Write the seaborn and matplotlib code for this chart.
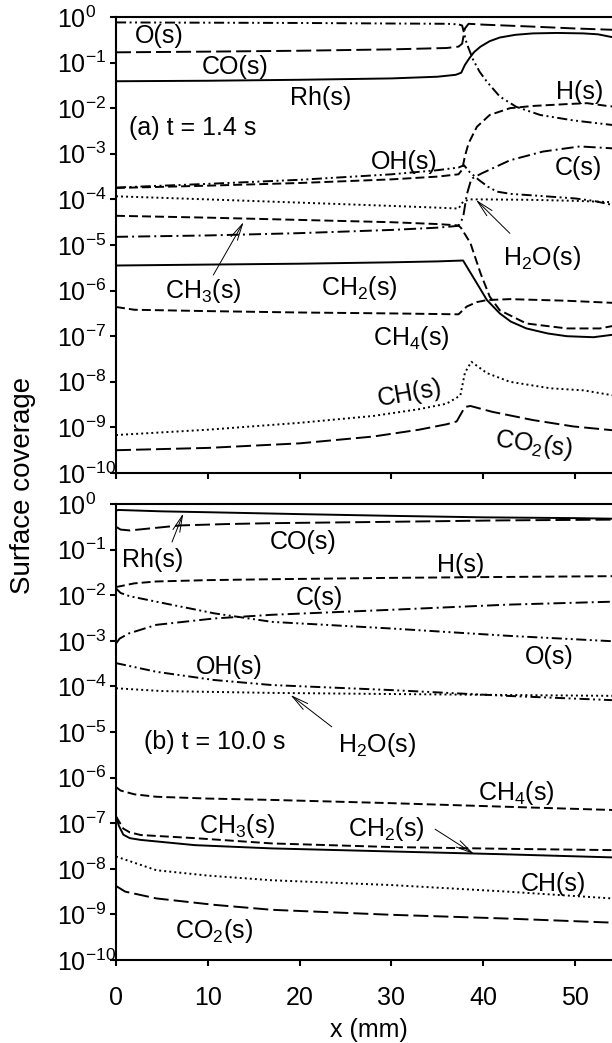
import numpy as np
import pandas as pd
import matplotlib
matplotlib.use("Agg")
import matplotlib.pyplot as plt
import seaborn as sns

# ---------------- panel (a): t = 1.4 s ----------------
a_Rh_x = [0, 10, 20, 30, 35, 37, 37.6, 38.0, 38.5, 39.0, 39.7, 40.7, 41.8, 43.5, 45.4, 48, 50.9, 52.5, 54, 56]
a_Rh_y = [0.039, 0.040, 0.042, 0.045, 0.049, 0.054, 0.060, 0.089, 0.126, 0.17, 0.224, 0.295, 0.355, 0.407,
          0.437, 0.447, 0.437, 0.417, 0.363, 0.316]

a_CO_x = [0, 10, 20, 30, 36, 37.3, 37.7, 38.0, 38.4, 40, 45, 50, 54, 56]
a_CO_y = [0.168, 0.174, 0.182, 0.195, 0.209, 0.224, 0.26, 0.56, 0.71, 0.68, 0.62, 0.56, 0.525, 0.51]

a_O_x = [0, 10, 20, 30, 36, 37.3, 37.7, 38.2, 38.9, 39.6, 40.4, 41.8, 43.6, 46.2, 49.8, 54, 56]
a_O_y = [0.76, 0.75, 0.74, 0.72, 0.71, 0.69, 0.65, 0.26, 0.115, 0.063, 0.038, 0.018, 0.0107, 0.0071,
         0.0054, 0.0043, 0.004]

a_H_x = [0, 10, 20, 30, 35, 37.3, 37.7, 38.0, 38.4, 39.3, 40.7, 42.9, 45.4, 49.1, 51.3, 53.5, 56]
a_H_y = [1.78e-4, 2.0e-4, 2.29e-4, 2.75e-4, 3.16e-4, 3.55e-4, 4.47e-4, 8.9e-4, 1.7e-3, 3.9e-3, 7.1e-3,
         1.0e-2, 1.12e-2, 1.23e-2, 1.29e-2, 1.12e-2, 1.0e-2]

a_OH_x = [0, 10, 20, 30, 35, 37.3, 37.9, 38.5, 39.5, 40.5, 41.5, 43, 46, 50, 52, 54, 56]
a_OH_y = [1.82e-4, 2.19e-4, 2.69e-4, 3.55e-4, 4.37e-4, 5.0e-4, 5.6e-4, 4.0e-4, 2.69e-4, 1.9e-4, 1.48e-4,
          1.32e-4, 1.2e-4, 1.05e-4, 9.3e-5, 7.6e-5, 6.3e-5]

a_C_x = [0, 10, 20, 30, 35, 37.3, 37.8, 38.2, 38.7, 39.8, 42.9, 46.5, 50.5, 54, 56]
a_C_y = [1.51e-5, 1.62e-5, 1.82e-5, 2.14e-5, 2.4e-5, 2.63e-5, 4.0e-5, 1.26e-4, 2.82e-4, 3.7e-4, 7.2e-4,
         1.12e-3, 1.45e-3, 1.32e-3, 1.2e-3]

a_H2O_x = [0, 10, 20, 30, 35, 37.3, 37.8, 38.5, 40, 45, 50, 54, 56]
a_H2O_y = [1.17e-4, 1.0e-4, 8.5e-5, 7.2e-5, 6.6e-5, 6.3e-5, 8.9e-5, 1.0e-4, 1.0e-4, 9.8e-5, 9.3e-5,
           8.7e-5, 8.3e-5]

a_CH3_x = [0, 10, 20, 30, 35, 37.3, 37.6, 38.6, 39.7, 40.7, 41.8, 44.7, 49.1, 52.7, 54, 56]
a_CH3_y = [4.37e-5, 3.98e-5, 3.55e-5, 3.16e-5, 2.88e-5, 2.69e-5, 2.34e-5, 1.1e-5, 2.4e-6, 7.4e-7,
           3.7e-7, 1.9e-7, 1.48e-7, 1.48e-7, 1.66e-7, 1.9e-7]

a_CH2_x = [0, 10, 20, 30, 35, 37.8, 39.3, 40.4, 41.8, 43, 44.7, 47, 49.1, 52, 54, 56]
a_CH2_y = [3.55e-6, 3.72e-6, 3.89e-6, 4.17e-6, 4.37e-6, 4.57e-6, 1.45e-6, 6.2e-7, 3.16e-7, 2.09e-7,
           1.48e-7, 1.15e-7, 1.0e-7, 9.5e-8, 1.07e-7, 1.26e-7]

a_CH4_x = [0, 2, 10, 20, 30, 37.3, 38.2, 39.3, 40.4, 42.9, 49, 54, 56]
a_CH4_y = [4.37e-7, 3.8e-7, 3.55e-7, 3.31e-7, 3.16e-7, 3.02e-7, 4.47e-7, 5.6e-7, 6.2e-7, 6.5e-7, 6.0e-7,
           5.4e-7, 5.1e-7]

a_CH_x = [0, 10, 20, 28, 33, 36, 37.5, 38.0, 38.7, 40.4, 42.9, 47.3, 50.9, 54, 56]
a_CH_y = [6.8e-10, 8.9e-10, 1.26e-9, 1.78e-9, 2.51e-9, 3.31e-9, 5.0e-9, 1.58e-8, 2.75e-8, 1.55e-8,
          1.0e-8, 7.2e-9, 6.5e-9, 5.1e-9, 4.5e-9]

a_CO2_x = [0, 10, 20, 28, 33, 36, 37.1, 38.0, 38.6, 41, 45.4, 49.8, 54, 56]
a_CO2_y = [3.16e-10, 3.55e-10, 4.47e-10, 6.3e-10, 8.9e-10, 1.17e-9, 1.35e-9, 2.8e-9, 2.95e-9, 2.19e-9,
           1.45e-9, 1.05e-9, 8.7e-10, 7.9e-10]

# ---------------- panel (b): t = 10.0 s ----------------
b_Rh_x = [0, 0.3, 5, 10, 20, 30, 40, 50, 56]
b_Rh_y = [0.72, 0.74, 0.69, 0.66, 0.60, 0.55, 0.51, 0.49, 0.47]

b_CO_x = [0, 0.5, 1.5, 3, 7, 12, 17, 30, 42, 56]
b_CO_y = [0.316, 0.275, 0.263, 0.282, 0.339, 0.363, 0.38, 0.407, 0.437, 0.457]

b_H_x = [0, 0.5, 2, 4.4, 10, 17, 30, 42, 56]
b_H_y = [0.0151, 0.0158, 0.0182, 0.02, 0.0214, 0.0224, 0.024, 0.0251, 0.0263]

b_O_x = [0, 0.5, 1.5, 4.4, 10.7, 17, 30, 42.6, 54, 56]
b_O_y = [0.0141, 0.0112, 0.0095, 0.0072, 0.0040, 0.0026, 0.00186, 0.00129, 0.00098, 0.00093]

b_C_x = [0, 0.4, 1.4, 4.4, 10.7, 17, 30, 42.6, 54, 56]
b_C_y = [8.7e-4, 1.12e-3, 1.45e-3, 2.24e-3, 3.09e-3, 3.72e-3, 4.79e-3, 6.2e-3, 7.2e-3, 7.4e-3]

b_OH_x = [0, 4.4, 10.7, 17, 30, 42.6, 54, 56]
b_OH_y = [3.24e-4, 2.09e-4, 1.38e-4, 1.07e-4, 8.3e-5, 6.2e-5, 5.0e-5, 4.9e-5]

b_H2O_x = [0, 5, 17, 30, 42, 54, 56]
b_H2O_y = [9.1e-5, 7.9e-5, 7.2e-5, 6.8e-5, 6.5e-5, 6.2e-5, 6.0e-5]

b_CH4_x = [0, 0.5, 2, 4.4, 10, 17, 30, 42.6, 54, 56]
b_CH4_y = [6.2e-7, 5.2e-7, 4.3e-7, 3.8e-7, 3.47e-7, 3.24e-7, 2.75e-7, 2.29e-7, 1.95e-7, 1.9e-7]

b_CH3_x = [0, 0.3, 0.8, 1.5, 2.7, 8.6, 17, 30, 42, 54, 56]
b_CH3_y = [1.41e-7, 1.12e-7, 7.6e-8, 6.3e-8, 5.5e-8, 4.7e-8, 3.6e-8, 3.0e-8, 2.75e-8, 2.57e-8, 2.5e-8]

b_CH2_x = [0, 0.3, 0.8, 1.5, 2.7, 8.6, 17, 30, 42, 54, 56]
b_CH2_y = [1.41e-7, 8.9e-8, 5.6e-8, 4.7e-8, 4.3e-8, 3.3e-8, 2.8e-8, 2.4e-8, 2.09e-8, 1.78e-8, 1.74e-8]

b_CH_x = [0, 4.4, 10, 17, 30, 42.6, 54, 56]
b_CH_y = [1.86e-8, 9.3e-9, 7.1e-9, 5.6e-9, 4.4e-9, 3.16e-9, 2.24e-9, 2.14e-9]

b_CO2_x = [0, 1, 4.4, 10.7, 17, 30, 42.6, 54, 56]
b_CO2_y = [4.2e-9, 3.16e-9, 2.24e-9, 1.62e-9, 1.26e-9, 9.8e-10, 8.1e-10, 6.6e-10, 6.5e-10]

x_ticks = [0, 10, 20, 30, 40, 50]
y_exponents = [0, -1, -2, -3, -4, -5, -6, -7, -8, -9, -10]
y_ticks = [10.0 ** k for k in y_exponents]
y_ticklabels = [r"$10^{%d}$" % k for k in y_exponents]

# line style per species (dash lengths in units of line width)
SOLID = "-"
LONG_DASH = (0, (7.7, 2.6))
DASH = (0, (4.6, 2.1))
DASH_DOT = (0, (6.2, 2.1, 1.0, 2.1))
DASH_DOT_DOT = (0, (5.2, 1.8, 1.0, 1.8, 1.0, 1.8))
DOT = (0, (1.0, 1.6))

styles = {
    "Rh": SOLID, "CH2": SOLID,
    "CO": LONG_DASH, "CO2": LONG_DASH,
    "H": DASH, "CH3": DASH, "CH4": DASH,
    "C": DASH_DOT,
    "O": DASH_DOT_DOT, "OH": DASH_DOT_DOT,
    "H2O": DOT, "CH": DOT,
}

panel_a = {
    "Rh": (a_Rh_x, a_Rh_y), "CO": (a_CO_x, a_CO_y), "O": (a_O_x, a_O_y), "H": (a_H_x, a_H_y),
    "OH": (a_OH_x, a_OH_y), "C": (a_C_x, a_C_y), "H2O": (a_H2O_x, a_H2O_y), "CH3": (a_CH3_x, a_CH3_y),
    "CH2": (a_CH2_x, a_CH2_y), "CH4": (a_CH4_x, a_CH4_y), "CH": (a_CH_x, a_CH_y),
    "CO2": (a_CO2_x, a_CO2_y),
}
panel_b = {
    "Rh": (b_Rh_x, b_Rh_y), "CO": (b_CO_x, b_CO_y), "O": (b_O_x, b_O_y), "H": (b_H_x, b_H_y),
    "OH": (b_OH_x, b_OH_y), "C": (b_C_x, b_C_y), "H2O": (b_H2O_x, b_H2O_y), "CH3": (b_CH3_x, b_CH3_y),
    "CH2": (b_CH2_x, b_CH2_y), "CH4": (b_CH4_x, b_CH4_y), "CH": (b_CH_x, b_CH_y),
    "CO2": (b_CO2_x, b_CO2_y),
}

sns.set_theme(style="ticks")
plt.rcParams["font.family"] = ["Liberation Sans", "DejaVu Sans"]
plt.rcParams["mathtext.fontset"] = "custom"
plt.rcParams["mathtext.rm"] = "Liberation Sans"
plt.rcParams["mathtext.it"] = "Liberation Sans:italic"
plt.rcParams["mathtext.bf"] = "Liberation Sans:bold"
plt.rcParams["axes.linewidth"] = 1.5

FS = 18
W, H = 612, 1043
fig = plt.figure(figsize=(W / 100, H / 100), dpi=100)

left = 116 / W
width = 505 / W
ax_a = fig.add_axes([left, (H - 473) / H, width, 456 / H])
ax_b = fig.add_axes([left, (H - 960) / H, width, 456 / H])


def draw_panel(ax, curves):
    for name, (xs, ys) in curves.items():
        df = pd.DataFrame({"x": xs, "coverage": ys})
        sns.lineplot(data=df, x="x", y="coverage", ax=ax, color="black", lw=1.4,
                     linestyle=styles[name], estimator=None, sort=False)
    ax.set_yscale("log")
    ax.set_xlim(0, 55)
    ax.set_ylim(1e-10, 1)
    ax.set_xticks(x_ticks)
    ax.set_yticks(y_ticks)
    ax.set_yticklabels(y_ticklabels, ha="left")
    ax.yaxis.set_minor_locator(matplotlib.ticker.NullLocator())
    ax.tick_params(axis="both", which="major", direction="out", length=4.5, width=1.5,
                   labelsize=FS, color="black", labelcolor="black")
    ax.tick_params(axis="y", pad=38)
    ax.tick_params(axis="x", pad=14)
    ax.set_xlabel("")
    ax.set_ylabel("")
    for sp in ax.spines.values():
        sp.set_color("black")
        sp.set_linewidth(1.5)


draw_panel(ax_a, panel_a)
draw_panel(ax_b, panel_b)
ax_a.tick_params(axis="x", labelbottom=False)


def label(ax, x, y, s, rot=0, ha="center"):
    ax.text(x, y, s, fontsize=FS, ha=ha, va="center", rotation=rot, color="black")


def arrow(ax, tip, tail):
    ax.annotate("", xy=tip, xytext=tail,
                arrowprops=dict(arrowstyle="->,head_length=1.0,head_width=0.22",
                                lw=0.7, color="black", shrinkA=0, shrinkB=0))


# panel (a) annotations
label(ax_a, 4.7, 0.38, "O(s)")
label(ax_a, 13.0, 0.080, "CO(s)")
label(ax_a, 22.3, 0.0167, "Rh(s)")
label(ax_a, 1.4, 3.7e-3, "(a) t = 1.4 s", ha="left")
label(ax_a, 50.5, 0.0228, "H(s)")
label(ax_a, 31.4, 6.6e-4, "OH(s)")
label(ax_a, 50.4, 4.9e-4, "C(s)")
label(ax_a, 46.4, 5.2e-6, r"H$_2$O(s)")
label(ax_a, 9.5, 1.0e-6, r"CH$_3$(s)")
label(ax_a, 26.5, 1.15e-6, r"CH$_2$(s)")
label(ax_a, 32.2, 9.0e-8, r"CH$_4$(s)")
label(ax_a, 32.0, 5.6e-9, "CH(s)", rot=10)
label(ax_a, 45.5, 4.2e-10, r"CO$_2$(s)", rot=-8)
arrow(ax_a, (13.9, 3.2e-5), (10.6, 2.2e-6))
arrow(ax_a, (39.2, 9.8e-5), (42.9, 1.8e-5))

# panel (b) annotations
label(ax_b, 4.0, 0.059, "Rh(s)")
label(ax_b, 20.4, 0.147, "CO(s)")
label(ax_b, 37.5, 0.046, "H(s)")
label(ax_b, 22.2, 8.7e-3, "C(s)")
label(ax_b, 47.2, 4.4e-4, "O(s)")
label(ax_b, 12.3, 2.7e-4, "OH(s)")
label(ax_b, 28.4, 5.2e-6, r"H$_2$O(s)")
label(ax_b, 3.05, 6.0e-6, "(b) t = 10.0 s", ha="left")
label(ax_b, 43.6, 4.7e-7, r"CH$_4$(s)")
label(ax_b, 13.2, 8.7e-8, r"CH$_3$(s)")
label(ax_b, 29.4, 7.6e-8, r"CH$_2$(s)")
label(ax_b, 47.6, 4.6e-9, "CH(s)")
label(ax_b, 10.7, 4.3e-10, r"CO$_2$(s)")
arrow(ax_b, (7.33, 0.625), (6.1, 0.147))
arrow(ax_b, (19.0, 6.5e-5), (23.5, 1.3e-5))
arrow(ax_b, (39.0, 2.1e-8), (34.75, 7.4e-8))

ax_b.set_xlabel("x (mm)", fontsize=FS, color="black", labelpad=6)
fig.text(23 / W, 1 - 485 / H, "Surface coverage", rotation=90, ha="center", va="center",
         fontsize=20, color="black")

fig.savefig("out.png", dpi=100)
